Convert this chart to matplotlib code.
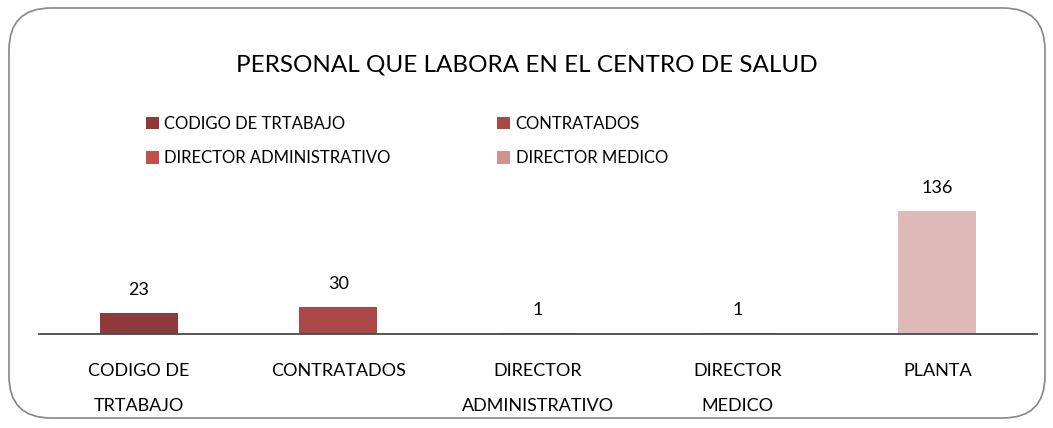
import matplotlib
matplotlib.use("Agg")
import matplotlib.pyplot as plt
from matplotlib.patches import FancyBboxPatch, Patch

categories = ["CODIGO DE\nTRTABAJO", "CONTRATADOS", "DIRECTOR\nADMINISTRATIVO", "DIRECTOR\nMEDICO", "PLANTA"]
values = [23, 30, 1, 1, 136]
colors = ["#8E3A3A", "#A94846", "#C0504D", "#D49190", "#E0B9B9"]
legend_labels = ["CODIGO DE TRTABAJO", "CONTRATADOS", "DIRECTOR ADMINISTRATIVO", "DIRECTOR MEDICO"]
title = "PERSONAL QUE LABORA EN EL CENTRO DE SALUD"

W, H = 1053, 428
plt.rcParams["font.family"] = ["Lato", "DejaVu Sans"]

fig = plt.figure(figsize=(W / 100, H / 100), dpi=100)

# rounded frame round the whole chart
frame = FancyBboxPatch((9 / W, 10 / H), 1036 / W, 410 / H,
                       boxstyle="round,pad=0,rounding_size=0.04",
                       transform=fig.transFigure, fill=False,
                       edgecolor="#868686", linewidth=1.2, mutation_aspect=W / H)
fig.patches.append(frame)

# plot area: baseline at y=334 px, top at y=200 px
ax = fig.add_axes([39 / W, (H - 334) / H, 998 / W, 134 / H])
x = list(range(len(values)))
bars = ax.bar(x, values, width=0.39, color=colors, zorder=2)
ax.set_xlim(-0.5, len(values) - 0.5)
ax.set_ylim(0, 148.2)

for spine in ["top", "right", "left"]:
    ax.spines[spine].set_visible(False)
ax.spines["bottom"].set_color("#4a4a4a")
ax.spines["bottom"].set_linewidth(1.3)
ax.set_yticks([])
ax.set_xticks(x)
ax.set_xticklabels(categories, fontsize=13, linespacing=2.45)
ax.tick_params(axis="x", length=0, pad=21)

for b, v in zip(bars, values):
    ax.annotate(str(v), (b.get_x() + b.get_width() / 2, v),
                xytext=(0, 11), textcoords="offset points",
                ha="center", va="bottom", fontsize=13)

fig.text(527 / W, 1 - 65 / H, title, ha="center", va="center",
         fontsize=17.5, fontweight="normal", color="black")

# matplotlib fills legend columns first, so reorder to get row order
order = [0, 2, 1, 3]
handles = [Patch(facecolor=colors[i], edgecolor="none") for i in order]
labels = [legend_labels[i] for i in order]
fig.legend(handles, labels, ncol=2, loc="upper left",
           bbox_to_anchor=(146 / W, 1 - 116 / H), frameon=False,
           fontsize=12, handlelength=0.75, handleheight=0.75,
           handletextpad=0.35, columnspacing=6.4, labelspacing=1.1,
           borderpad=0, borderaxespad=0)

fig.savefig("out.png", dpi=100)
